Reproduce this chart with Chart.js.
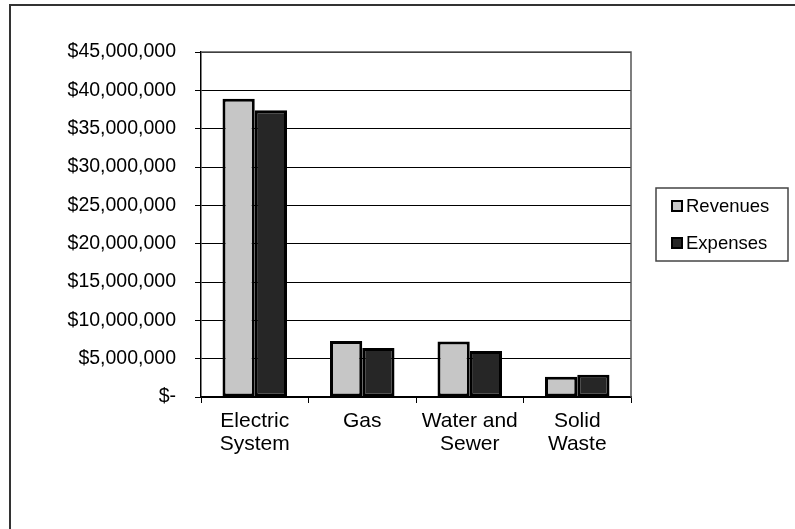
<!DOCTYPE html>
<html>
<head>
<meta charset="utf-8">
<script src="https://cdn.jsdelivr.net/npm/chart.js@4/dist/chart.umd.min.js"></script>
<style>
  html, body { margin: 0; padding: 0; background: #fff; }
  #wrap { width: 795px; height: 529px; position: relative; }
</style>
</head>
<body>
<div id="wrap"><canvas id="myChart" width="795" height="529"></canvas></div>
<script>
const categories = [['Electric', 'System'], 'Gas', ['Water and', 'Sewer'], ['Solid', 'Waste']];
const revenues = [38900000, 7300000, 7250000, 2650000];
const expenses = [37400000, 6400000, 6000000, 2900000];
const yTicks = [0, 5000000, 10000000, 15000000, 20000000, 25000000, 30000000, 35000000, 40000000, 45000000];

const FONT = '"Liberation Sans", Arial, sans-serif';

function money(v) {
  if (v === 0) return '$-';
  return '$' + String(v).replace(/\B(?=(\d{3})+(?!\d))/g, ',');
}

const data = {
  labels: categories,
  datasets: [
    {
      label: 'Revenues',
      data: revenues,
      backgroundColor: '#c6c6c6',
      borderColor: '#000',
      borderWidth: 3,
      borderSkipped: false
    },
    {
      label: 'Expenses',
      data: expenses,
      backgroundColor: '#262626',
      borderColor: '#000',
      borderWidth: 3,
      borderSkipped: false
    }
  ]
};

// frame, plot border and the boxed legend
const extras = {
  id: 'extras',
  beforeDraw(chart) {
    const ctx = chart.ctx;
    ctx.save();
    ctx.strokeStyle = '#333';
    ctx.lineWidth = 2;
    ctx.strokeRect(10, 5, 800, 600);
    ctx.restore();
  },
  afterDraw(chart) {
    const {ctx, chartArea} = chart;
    ctx.save();
    ctx.strokeStyle = '#555';
    ctx.lineWidth = 1.5;
    ctx.beginPath();
    ctx.moveTo(chartArea.left, chartArea.top);
    ctx.lineTo(chartArea.right, chartArea.top);
    ctx.lineTo(chartArea.right, chartArea.bottom);
    ctx.stroke();

    // legend
    var bw = 132, bh = 73;
    var bx = chartArea.right + 25;
    var by = (chartArea.top + chartArea.bottom) / 2 - bh / 2;
    ctx.strokeStyle = '#444';
    ctx.lineWidth = 1.5;
    ctx.strokeRect(bx, by, bw, bh);
    ctx.font = '18.5px ' + FONT;
    ctx.textBaseline = 'middle';
    chart.data.datasets.forEach(function(ds, i) {
      var cy = by + 18 + i * 37;
      ctx.fillStyle = '#000';
      ctx.fillRect(bx + 15, cy - 6, 12, 12);
      ctx.fillStyle = ds.backgroundColor;
      ctx.fillRect(bx + 17, cy - 4, 8, 8);
      ctx.fillStyle = '#000';
      ctx.fillText(ds.label, bx + 30, cy + 1);
    });
    ctx.restore();
  }
};

const config = {
  type: 'bar',
  data: data,
  options: {
    responsive: false,
    animation: false,
    layout: { padding: { top: 52, right: 164, left: 0, bottom: 0 } },
    datasets: {
      bar: { categoryPercentage: 0.6, barPercentage: 1.0 }
    },
    plugins: {
      legend: { display: false },
      tooltip: { enabled: false }
    },
    scales: {
      x: {
        afterFit: function(scale) { scale.height = 132; },
        grid: { offset: true, drawOnChartArea: false, color: '#000', tickLength: 6 },
        border: { color: '#000', width: 1.5 },
        ticks: { color: '#000', padding: 7, maxRotation: 0, font: { family: FONT, size: 21, lineHeight: 1.1 } }
      },
      y: {
        min: 0,
        max: 45000000,
        afterFit: function(scale) { scale.width = 201; },
        afterBuildTicks: function(scale) { scale.ticks = yTicks.map(v => ({value: v})); },
        grid: { color: '#000', lineWidth: 1, tickLength: 6 },
        border: { color: '#000', width: 1.5 },
        ticks: { color: '#000', padding: 19, font: { family: FONT, size: 19.5 }, callback: money }
      }
    }
  },
  plugins: [extras]
};

const myChart = new Chart(document.getElementById('myChart'), config);
</script>
</body>
</html>
